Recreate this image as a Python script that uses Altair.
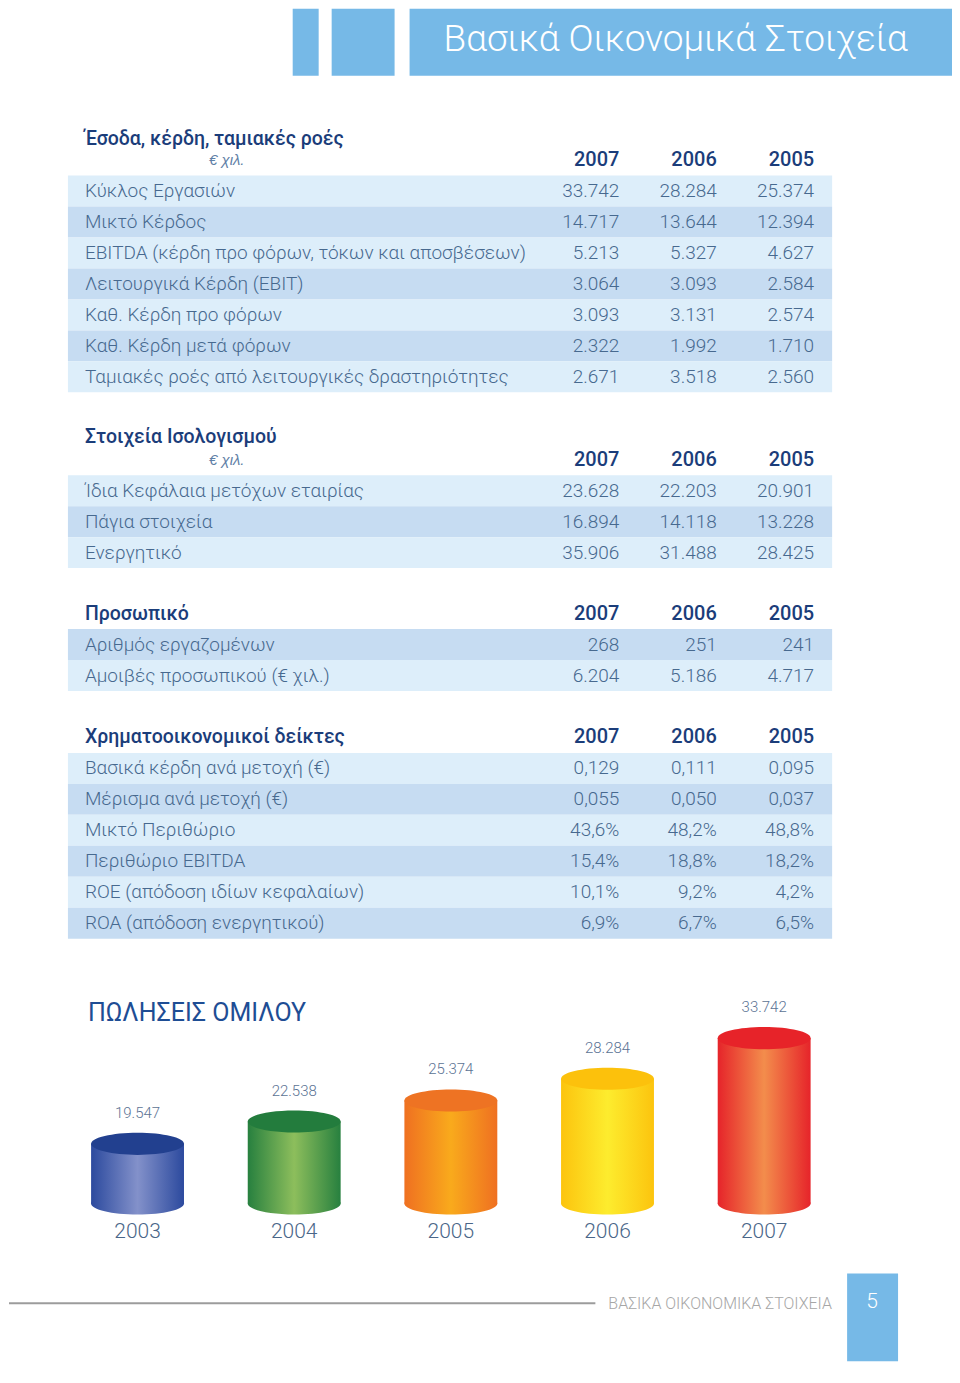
import altair as alt
import pandas as pd

# ------------------------------------------------------------------ data
page_title = "Βασικά Οικονομικά Στοιχεία"
table_years = ["2007", "2006", "2005"]
unit_label = "€ χιλ."

t1_title = "Έσοδα, κέρδη, ταμιακές ροές"
t1_rows = [
    "Κύκλος Εργασιών",
    "Μικτό Κέρδος",
    "EBITDA (κέρδη προ φόρων, τόκων και αποσβέσεων)",
    "Λειτουργικά Κέρδη (EBIT)",
    "Καθ. Κέρδη προ φόρων",
    "Καθ. Κέρδη μετά φόρων",
    "Ταμιακές ροές από λειτουργικές δραστηριότητες",
]
t1_2007 = [33742, 14717, 5213, 3064, 3093, 2322, 2671]
t1_2006 = [28284, 13644, 5327, 3093, 3131, 1992, 3518]
t1_2005 = [25374, 12394, 4627, 2584, 2574, 1710, 2560]

t2_title = "Στοιχεία Ισολογισμού"
t2_rows = ["Ίδια Κεφάλαια μετόχων εταιρίας", "Πάγια στοιχεία", "Ενεργητικό"]
t2_2007 = [23628, 16894, 35906]
t2_2006 = [22203, 14118, 31488]
t2_2005 = [20901, 13228, 28425]

t3_title = "Προσωπικό"
t3_rows = ["Αριθμός εργαζομένων", "Αμοιβές προσωπικού (€ χιλ.)"]
t3_2007 = [268, 6204]
t3_2006 = [251, 5186]
t3_2005 = [241, 4717]

t4_title = "Χρηματοοικονομικοί δείκτες"
t4_rows = [
    "Βασικά κέρδη ανά μετοχή (€)",
    "Μέρισμα ανά μετοχή (€)",
    "Μικτό Περιθώριο",
    "Περιθώριο EBITDA",
    "ROE (απόδοση ιδίων κεφαλαίων)",
    "ROA (απόδοση ενεργητικού)",
]
t4_2007 = [0.129, 0.055, 43.6, 15.4, 10.1, 6.9]
t4_2006 = [0.111, 0.050, 48.2, 18.8, 9.2, 6.7]
t4_2005 = [0.095, 0.037, 48.8, 18.2, 4.2, 6.5]

sales_title = "ΠΩΛΗΣΕΙΣ ΟΜΙΛΟΥ"
sales_years = ["2003", "2004", "2005", "2006", "2007"]
sales_values = [19547, 22538, 25374, 28284, 33742]

footer_text = "ΒΑΣΙΚΑ ΟΙΚΟΝΟΜΙΚΑ ΣΤΟΙΧΕΙΑ"
page_number = "5"

# ------------------------------------------------------------------ style
FONT = "Roboto"
NAVY = "#1b3d7a"
BODY = "#47698f"
SUB = "#5f80a6"
LIGHT = "#ddeefa"
DARK = "#c6dcf2"
BANNER = "#76b9e7"
W = 944
STEP = 31

cyl_edges = ["#2c4a9e", "#27803f", "#ef7021", "#fcc40e", "#e6242a"]
cyl_mids = ["#8391ca", "#8dbe5c", "#f9aa1c", "#fdec2e", "#f38d4c"]
cyl_tops = ["#22408f", "#237c3d", "#ee7323", "#fcc10c", "#e72329"]
ELLIPSE = ("M-1,0C-1,-0.1309,-0.5523,-0.237,0,-0.237C0.5523,-0.237,1,-0.1309,1,0"
           "C1,0.1309,0.5523,0.237,0,0.237C-0.5523,0.237,-1,0.1309,-1,0Z")
CYL_W = 93

# table columns: right edges of the three year columns, 97.5 px apart
TX = alt.Scale(domain=[2007 - (W - 611) / 97.5, 2007 + 611 / 97.5], reverse=True, nice=False, zero=False)


def table(rows, cols, gap, title=None, title_dy=0, header_title=None,
          first_dark=False, pct_from=None):
    t = 1 if title else 0
    n = t + 1 + len(rows)
    h = gap + n * STEP
    i0 = -t - 0.5 - gap / STEP
    ys = alt.Scale(domain=[i0, i0 + h / STEP], reverse=True, nice=False, zero=False)
    Y = alt.Y("idx:Q", scale=ys, axis=None)
    X = alt.X("yr:Q", scale=TX, axis=None)

    base = pd.DataFrame({"row": rows, "idx": list(range(1, len(rows) + 1))})
    off = 1 if first_dark else 0
    stripes = alt.Chart(base).transform_calculate(
        lo="datum.idx - 0.5", hi="datum.idx + 0.5",
        shade=f"(datum.idx + {off}) % 2 == 1 ? '{LIGHT}' : '{DARK}'",
    ).mark_rect().encode(
        y=alt.Y("lo:Q", scale=ys, axis=None), y2="hi:Q",
        x=alt.value(59), x2=alt.value(824),
        color=alt.Color("shade:N", scale=None, legend=None),
    )
    labels = alt.Chart(base).mark_text(
        align="left", baseline="middle", font=FONT, fontSize=19, fontWeight=300, color=BODY
    ).encode(y=Y, x=alt.value(76), text="row:N")

    recs = []
    for yi, yr in enumerate(table_years):
        for ri, r in enumerate(rows):
            recs.append({"row": r, "yr": int(yr), "v": cols[yi][ri], "idx": ri + 1})
    dv = pd.DataFrame(recs)
    txt = dict(align="right", baseline="middle", font=FONT, fontSize=19, fontWeight=300, color=BODY)
    layers = [stripes, labels]
    if pct_from is None:
        layers.append(alt.Chart(dv).mark_text(**txt).encode(
            y=Y, x=X, text=alt.Text("v:Q", format=",d")))
    else:
        layers.append(alt.Chart(dv).transform_filter(f"datum.idx <= {pct_from}").mark_text(**txt).encode(
            y=Y, x=X, text=alt.Text("v:Q", format=".3f")))
        layers.append(alt.Chart(dv).transform_filter(f"datum.idx > {pct_from}")
                      .transform_calculate(p="datum.v / 100").mark_text(**txt).encode(
            y=Y, x=X, text=alt.Text("p:Q", format=".1%")))

    hdr = pd.DataFrame({"year": table_years, "yr": [int(y) for y in table_years], "idx": [0] * 3})
    layers.append(alt.Chart(hdr).mark_text(
        align="right", baseline="middle", font=FONT, fontSize=20, fontWeight=500, color=NAVY
    ).encode(y=Y, x=X, text="year:N"))

    if title:
        tdf = pd.DataFrame({"t": [title], "idx": [-1]})
        layers.append(alt.Chart(tdf).mark_text(
            align="left", baseline="middle", font=FONT, fontSize=19.5, fontWeight=500,
            color=NAVY, dy=title_dy
        ).encode(y=Y, x=alt.value(76), text="t:N"))
        udf = pd.DataFrame({"t": [unit_label], "idx": [0]})
        layers.append(alt.Chart(udf).mark_text(
            align="center", baseline="middle", font="Liberation Sans", fontSize=15,
            fontStyle="italic", color=SUB
        ).encode(y=Y, x=alt.value(218), text="t:N"))
    if header_title:
        tdf = pd.DataFrame({"t": [header_title], "idx": [0]})
        layers.append(alt.Chart(tdf).mark_text(
            align="left", baseline="middle", font=FONT, fontSize=19.5, fontWeight=500, color=NAVY
        ).encode(y=Y, x=alt.value(76), text="t:N"))
    return alt.layer(*layers).properties(width=W, height=h)


dummy = pd.DataFrame({"a": [0]})

# ------------------------------------------------------------------ banner
banner_rects = [
    alt.Chart(dummy).mark_rect(color=BANNER).encode(
        x=alt.value(x0), x2=alt.value(x1), y=alt.value(0), y2=alt.value(67))
    for x0, x1 in [(284, 310), (323, 386), (401, W)]
]
banner_text = alt.Chart(pd.DataFrame({"t": [page_title]})).mark_text(
    align="left", baseline="middle", font=FONT, fontSize=37, fontWeight=300, color="white"
).encode(x=alt.value(435), y=alt.value(31), text="t:N")
banner = alt.layer(*banner_rects, banner_text).properties(width=W, height=105)

# ------------------------------------------------------------------ tables
tab1 = table(t1_rows, [t1_2007, t1_2006, t1_2005], gap=0, title=t1_title, title_dy=9.5)
tab2 = table(t2_rows, [t2_2007, t2_2006, t2_2005], gap=21, title=t2_title, title_dy=8.5)
tab3 = table(t3_rows, [t3_2007, t3_2006, t3_2005], gap=30, header_title=t3_title, first_dark=True)
tab4 = table(t4_rows, [t4_2007, t4_2006, t4_2005], gap=31, header_title=t4_title, pct_from=2)

# ------------------------------------------------------------------ cylinders
BASE = 11550
sdf = pd.DataFrame({"year": sales_years, "v": sales_values})
sdf["yr"] = sdf["year"].astype(int)
xs = alt.Scale(domain=[2003 - 125 / 158.5, 2003 + (W - 125) / 158.5], nice=False, zero=False)
ys = alt.Scale(domain=[4040, 47085], zero=False, nice=False)
SX = alt.X("yr:Q", scale=xs, axis=None)

cyl_layers = []
for i, yr in enumerate(sales_years):
    grad = {
        "gradient": "linear", "x1": 0, "x2": 1, "y1": 0, "y2": 0,
        "stops": [
            {"offset": 0, "color": cyl_edges[i]},
            {"offset": 0.5, "color": cyl_mids[i]},
            {"offset": 1, "color": cyl_edges[i]},
        ],
    }
    one = alt.Chart(sdf).transform_filter(alt.datum.year == yr)
    cyl_layers.append(one.transform_calculate(base=str(BASE)).mark_point(
        shape=ELLIPSE, size=CYL_W * CYL_W, filled=True, opacity=1, strokeWidth=0, fill=grad
    ).encode(x=SX, y=alt.Y("base:Q", scale=ys, axis=None)))
    cyl_layers.append(one.mark_bar(size=CYL_W, color=grad, cornerRadius=0).encode(
        x=SX, y=alt.Y("v:Q", scale=ys, axis=None), y2=alt.datum(BASE)))

tops = alt.Chart(sdf).mark_point(
    shape=ELLIPSE, size=CYL_W * CYL_W, filled=True, opacity=1, strokeWidth=0
).encode(
    x=SX, y=alt.Y("v:Q", scale=ys, axis=None),
    color=alt.Color("year:N", scale=alt.Scale(domain=sales_years, range=cyl_tops), legend=None),
)
vlabels = alt.Chart(sdf).mark_text(
    baseline="middle", font=FONT, fontSize=15, fontWeight=300, color="#5b7394", dy=-31
).encode(x=SX, y=alt.Y("v:Q", scale=ys, axis=None), text=alt.Text("v:Q", format=",d"))
ylabels = alt.Chart(sdf).transform_calculate(base=str(BASE)).mark_text(
    baseline="middle", font=FONT, fontSize=21, fontWeight=300, color="#4a6688", dy=29
).encode(x=SX, y=alt.Y("base:Q", scale=ys, axis=None), text="year:N")
stitle = alt.Chart(pd.DataFrame({"t": [sales_title]})).mark_text(
    align="left", baseline="middle", font=FONT, fontSize=25, fontWeight=400, color="#1e4d94"
).encode(x=alt.value(79), y=alt.value(74), text="t:N")
bars = alt.layer(*cyl_layers, tops, vlabels, ylabels, stitle).properties(width=W, height=321)

# ------------------------------------------------------------------ footer
f_rule = alt.Chart(dummy).mark_rule(color="#9c9c9c", strokeWidth=2).encode(
    x=alt.value(0), x2=alt.value(587), y=alt.value(44))
f_text = alt.Chart(pd.DataFrame({"t": [footer_text]})).mark_text(
    align="left", baseline="middle", font=FONT, fontSize=16, fontWeight=300, color="#a6a6a6"
).encode(x=alt.value(600), y=alt.value(45), text="t:N")
f_box = alt.Chart(dummy).mark_rect(color=BANNER).encode(
    x=alt.value(839), x2=alt.value(890), y=alt.value(14), y2=alt.value(102))
f_num = alt.Chart(pd.DataFrame({"t": [page_number]})).mark_text(
    align="center", baseline="middle", font=FONT, fontSize=21, fontWeight=300, color="white"
).encode(x=alt.value(864), y=alt.value(43), text="t:N")
footer = alt.layer(f_rule, f_text, f_box, f_num).properties(width=W, height=102)

NOPAD = {"left": 0, "top": 0, "right": 0, "bottom": 0}
chart = alt.vconcat(
    banner, tab1, tab2, tab3, tab4, bars, footer, spacing=0, padding=NOPAD
).configure(
    background="white",
    padding=NOPAD,
    view={"strokeWidth": 0},
    locale={"number": {"decimal": ",", "thousands": ".", "grouping": [3], "currency": ["", " €"]}},
)

chart.save("out.html", embed_options={"renderer": "svg", "actions": False})
